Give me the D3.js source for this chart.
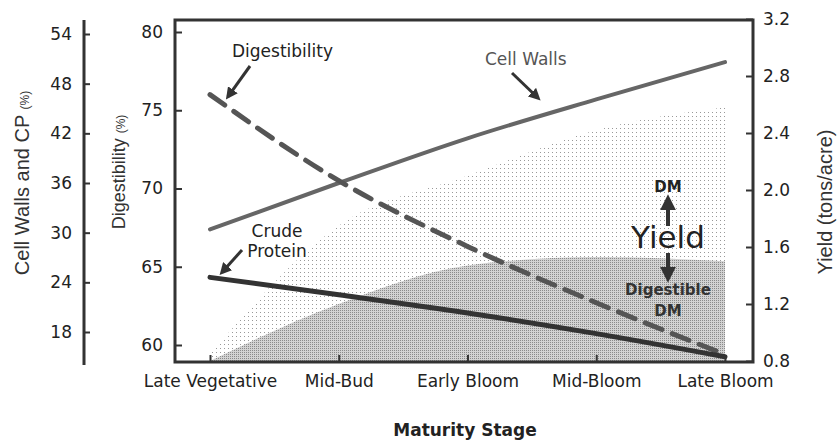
<!DOCTYPE html>
<html>
<head>
<meta charset="utf-8">
<script src="https://cdn.jsdelivr.net/npm/d3@7"></script>
<style>
  body { margin: 0; background: #fff; }
  svg { display: block; }
</style>
</head>
<body>
<script>
// data
var stages = ["Late Vegetative", "Mid-Bud", "Early Bloom", "Mid-Bloom", "Late Bloom"];
var cellWalls = [30.4, 36.0, 41.4, 46.1, 50.6];      // % (outer left axis)
var crudeProtein = [24.6, 22.5, 20.3, 17.8, 15.0];   // % (outer left axis)
var digestibility = [76, 70.5, 66.3, 62.7, 59.4];    // % (inner left axis)
var dmYield = [0.85, 1.75, 2.1, 2.42, 2.58];         // tons/acre (right axis)
var digestibleDM = [0.8, 1.2, 1.47, 1.53, 1.5];      // tons/acre (right axis)

var cwTicks = [18, 24, 30, 36, 42, 48, 54];
var digTicks = [60, 65, 70, 75, 80];
var yieldTicks = [0.8, 1.2, 1.6, 2.0, 2.4, 2.8, 3.2];

var width = 838, height = 443;
var frame = { left: 175, right: 753, top: 20, bottom: 362 };
var numFont = "DejaVu Sans";
var txtFont = "Liberation Sans, Arial, sans-serif";

// scales
var x = d3.scalePoint().domain(stages).range([210, 725]);
var yCW = d3.scaleLinear().domain([18, 54]).range([332, 34]);
var yDig = d3.scaleLinear().domain([60, 80]).range([345, 32]);
var yYield = d3.scaleLinear().domain([0.8, 3.2]).range([361, 19]);

var svg = d3.select("body").append("svg")
    .attr("width", width)
    .attr("height", height);

var defs = svg.append("defs");

// sparse dots for DM yield
var p1 = defs.append("pattern").attr("id", "sparse")
    .attr("patternUnits", "userSpaceOnUse").attr("width", 4).attr("height", 4);
p1.append("rect").attr("width", 4).attr("height", 4).attr("fill", "#fff");
p1.append("rect").attr("x", 0).attr("y", 0).attr("width", 1).attr("height", 1).attr("fill", "#999");

// dense dots for digestible DM
var p2 = defs.append("pattern").attr("id", "dense")
    .attr("patternUnits", "userSpaceOnUse").attr("width", 2).attr("height", 2);
p2.append("rect").attr("width", 2).attr("height", 2).attr("fill", "#d2d2d2");
p2.append("rect").attr("x", 0).attr("y", 0).attr("width", 1).attr("height", 1).attr("fill", "#8a8a8a");

defs.append("marker").attr("id", "ah")
    .attr("viewBox", "0 0 10 10").attr("refX", 7).attr("refY", 5)
    .attr("markerWidth", 4).attr("markerHeight", 4).attr("orient", "auto")
  .append("path").attr("d", "M0,0L10,5L0,10z").attr("fill", "#333");

// shaded yield areas
var area = d3.area()
    .x(function (d, i) { return x(stages[i]); })
    .y0(yYield(0.8))
    .y1(function (d) { return yYield(d); })
    .curve(d3.curveMonotoneX);

svg.append("path").datum(dmYield).attr("d", area).attr("fill", "url(#sparse)");
svg.append("path").datum(digestibleDM).attr("d", area).attr("fill", "url(#dense)");

// lines
function lineOn(scale) {
    return d3.line()
        .x(function (d, i) { return x(stages[i]); })
        .y(function (d) { return scale(d); })
        .curve(d3.curveMonotoneX);
}

svg.append("path").datum(cellWalls)
    .attr("d", lineOn(yCW))
    .attr("fill", "none").attr("stroke", "#666").attr("stroke-width", 4)
    .attr("stroke-linecap", "round");

svg.append("path").datum(digestibility)
    .attr("d", lineOn(yDig))
    .attr("fill", "none").attr("stroke", "#555").attr("stroke-width", 5)
    .attr("stroke-dasharray", "18,11")
    .attr("stroke-linecap", "round");

svg.append("path").datum(crudeProtein)
    .attr("d", lineOn(yCW))
    .attr("fill", "none").attr("stroke", "#333").attr("stroke-width", 5)
    .attr("stroke-linecap", "round");

// frame
svg.append("rect")
    .attr("x", frame.left).attr("y", frame.top)
    .attr("width", frame.right - frame.left).attr("height", frame.bottom - frame.top)
    .attr("fill", "none").attr("stroke", "#333").attr("stroke-width", 3);

function styleAxis(g, size) {
    g.select(".domain").remove();
    g.selectAll(".tick line").attr("stroke", "#333").attr("stroke-width", 2);
    g.selectAll(".tick text")
        .attr("font-family", numFont).attr("font-size", size).attr("fill", "#222");
}

// outer left axis: cell walls and CP
var cwX = 84;
svg.append("line")
    .attr("x1", cwX).attr("x2", cwX).attr("y1", frame.top).attr("y2", 365)
    .attr("stroke", "#333").attr("stroke-width", 3);
svg.append("g")
    .attr("transform", "translate(" + cwX + ",0)")
    .call(d3.axisLeft(yCW).tickValues(cwTicks).tickSizeInner(-6).tickSizeOuter(0).tickPadding(12))
    .call(styleAxis, 17);

// inner left axis: digestibility
svg.append("g")
    .attr("transform", "translate(" + frame.left + ",0)")
    .call(d3.axisLeft(yDig).tickValues(digTicks).tickSizeInner(-7).tickSizeOuter(0).tickPadding(12))
    .call(styleAxis, 17);

// right axis: yield
svg.append("g")
    .attr("transform", "translate(" + frame.right + ",0)")
    .call(d3.axisRight(yYield).tickValues(yieldTicks).tickFormat(d3.format(".1f"))
        .tickSizeInner(-7).tickSizeOuter(0).tickPadding(10))
    .call(styleAxis, 17);

// bottom axis
svg.append("g")
    .attr("transform", "translate(0," + frame.bottom + ")")
    .call(d3.axisBottom(x).tickSizeInner(-7).tickSizeOuter(0).tickPadding(13))
    .call(styleAxis, 17);

// axis titles
function vTitle(cx, cy, main, unit, size) {
    var t = svg.append("text")
        .attr("transform", "translate(" + cx + "," + cy + ") rotate(-90)")
        .attr("text-anchor", "middle").attr("dy", "0.35em")
        .attr("font-family", txtFont).attr("font-size", size).attr("fill", "#333");
    t.append("tspan").text(main + " ");
    t.append("tspan").attr("font-size", 12).text(unit);
}
vTitle(22, 183, "Cell Walls and CP", "(%)", 20);
vTitle(119, 172, "Digestibility", "(%)", 18);
vTitle(825, 202, "Yield (tons/acre)", "", 20);

svg.append("text")
    .attr("x", 465).attr("y", 436)
    .attr("text-anchor", "middle")
    .attr("font-family", numFont).attr("font-size", 17).attr("font-weight", "bold")
    .attr("fill", "#222")
    .text("Maturity Stage");

// annotations
function label(tx, ty, str, opts) {
    opts = opts || {};
    return svg.append("text")
        .attr("x", tx).attr("y", ty)
        .attr("text-anchor", opts.anchor || "start")
        .attr("font-family", opts.font || numFont)
        .attr("font-size", opts.size || 17)
        .attr("font-weight", opts.weight || "normal")
        .attr("fill", opts.fill || "#222")
        .text(str);
}
function arrow(x1, y1, x2, y2, w) {
    svg.append("line")
        .attr("x1", x1).attr("y1", y1).attr("x2", x2).attr("y2", y2)
        .attr("stroke", "#333").attr("stroke-width", w || 3)
        .attr("marker-end", "url(#ah)");
}

label(232, 57, "Digestibility");
arrow(250, 66, x(stages[0]) + 18, yDig(digestibility[0]) + 2);

label(485, 65, "Cell Walls", { fill: "#555" });
arrow(512, 73, 538, 98);

label(277, 237, "Crude", { anchor: "middle" });
label(277, 257, "Protein", { anchor: "middle" });
arrow(242, 250, x(stages[0]) + 12, yCW(crudeProtein[0]) - 5);

label(668, 192, "DM", { anchor: "middle", size: 15, weight: "bold" });
arrow(668, 226, 668, 199, 4);
label(668, 248, "Yield", { anchor: "middle", size: 31 });
arrow(668, 253, 668, 278, 4);
label(668, 295, "Digestible", { anchor: "middle", size: 15, weight: "bold", fill: "#333" });
label(668, 316, "DM", { anchor: "middle", size: 15, weight: "bold", fill: "#333" });
</script>
</body>
</html>
